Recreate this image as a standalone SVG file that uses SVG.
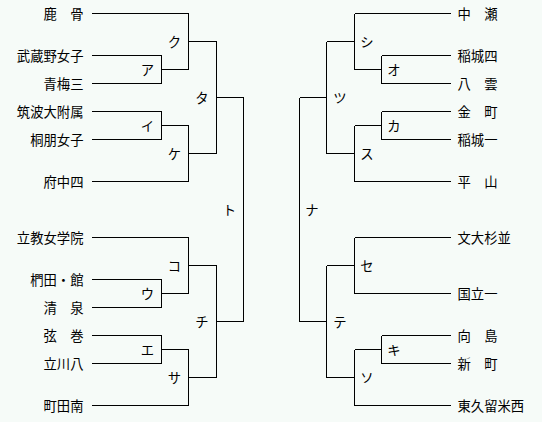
<svg xmlns="http://www.w3.org/2000/svg" width="542" height="422" viewBox="0 0 542 422">
<style>
.bg{fill:#f6fbf8}
.ln{fill:none;stroke:#000;stroke-width:1;shape-rendering:crispEdges}
text{font-family:"Noto Sans CJK JP","MS Gothic",sans-serif;font-size:13.33px;fill:#000;dominant-baseline:central}
.l{text-anchor:end}
.r{text-anchor:start}
.m{text-anchor:middle}
</style>
<rect class="bg" x="0" y="0" width="542" height="422"/>
<g id="connectors" class="ln">
<!-- left team lines -->
<path d="M92 13.5H188.5M92 55.5H161.5M92 83.5H161.5M92 111.5H161.5M92 139.5H161.5M92 181.5H188.5M92 237.5H188.5M92 279.5H161.5M92 307.5H161.5M92 335.5H161.5M92 363.5H161.5M92 405.5H188.5"/>
<!-- left matches -->
<path d="M161.5 55.5V83.5M161.5 69.5H188.5"/>
<path d="M188.5 13.5V69.5M188.5 41.5H216.5"/>
<path d="M161.5 111.5V139.5M161.5 125.5H188.5"/>
<path d="M188.5 125.5V181.5M188.5 153.5H216.5"/>
<path d="M216.5 41.5V153.5M216.5 97.5H243.5"/>
<path d="M161.5 279.5V307.5M161.5 293.5H188.5"/>
<path d="M188.5 237.5V293.5M188.5 265.5H216.5"/>
<path d="M161.5 335.5V363.5M161.5 349.5H188.5"/>
<path d="M188.5 349.5V405.5M188.5 377.5H216.5"/>
<path d="M216.5 265.5V377.5M216.5 321.5H243.5"/>
<path d="M243.5 97.5V321.5"/>
<!-- right team lines -->
<path d="M451 13.5H354.5M451 55.5H381.5M451 83.5H381.5M451 111.5H381.5M451 139.5H381.5M451 181.5H354.5M451 237.5H354.5M451 293.5H354.5M451 335.5H381.5M451 363.5H381.5M451 405.5H354.5"/>
<!-- right matches -->
<path d="M381.5 55.5V83.5M381.5 69.5H354.5"/>
<path d="M354.5 13.5V69.5M354.5 41.5H326.5"/>
<path d="M381.5 111.5V139.5M381.5 125.5H354.5"/>
<path d="M354.5 125.5V181.5M354.5 153.5H326.5"/>
<path d="M326.5 41.5V153.5M326.5 97.5H299.5"/>
<path d="M354.5 237.5V293.5M354.5 265.5H326.5"/>
<path d="M381.5 335.5V363.5M381.5 349.5H354.5"/>
<path d="M354.5 349.5V405.5M354.5 377.5H326.5"/>
<path d="M326.5 265.5V377.5M326.5 321.5H299.5"/>
<path d="M299.5 97.5V321.5"/>
</g>
<g id="match-labels">
<text class="m" x="174.5" y="41.5">ク</text>
<text class="m" x="147.5" y="69.5">ア</text>
<text class="m" x="147.5" y="125.5">イ</text>
<text class="m" x="174.5" y="153.5">ケ</text>
<text class="m" x="202" y="97.5">タ</text>
<text class="m" x="174.5" y="265.5">コ</text>
<text class="m" x="147.5" y="293.5">ウ</text>
<text class="m" x="147.5" y="349.5">エ</text>
<text class="m" x="174.5" y="377.5">サ</text>
<text class="m" x="202" y="321.5">チ</text>
<text class="m" x="229.5" y="209.5">ト</text>
<text class="m" x="367" y="41.5">シ</text>
<text class="m" x="394" y="69.5">オ</text>
<text class="m" x="394" y="125.5">カ</text>
<text class="m" x="367" y="153.5">ス</text>
<text class="m" x="340" y="97.5">ツ</text>
<text class="m" x="367" y="265.5">セ</text>
<text class="m" x="394" y="349.5">キ</text>
<text class="m" x="367" y="377.5">ソ</text>
<text class="m" x="340" y="321.5">テ</text>
<text class="m" x="312" y="209.5">ナ</text>
</g>
<g id="team-shikahone"><text class="l" x="83.5" y="13.5">鹿　骨</text></g>
<g id="team-musashinojoshi"><text class="l" x="83.5" y="55.5">武蔵野女子</text></g>
<g id="team-ome3"><text class="l" x="83.5" y="83.5">青梅三</text></g>
<g id="team-tsukuba"><text class="l" x="83.5" y="111.5">筑波大附属</text></g>
<g id="team-toho"><text class="l" x="83.5" y="139.5">桐朋女子</text></g>
<g id="team-fuchu4"><text class="l" x="83.5" y="181.5">府中四</text></g>
<g id="team-rikkyo"><text class="l" x="83.5" y="237.5">立教女学院</text></g>
<g id="team-kunugida"><text class="l" x="83.5" y="279.5">椚田・館</text></g>
<g id="team-seisen"><text class="l" x="83.5" y="307.5">清　泉</text></g>
<g id="team-tsurumaki"><text class="l" x="83.5" y="335.5">弦　巻</text></g>
<g id="team-tachikawa8"><text class="l" x="83.5" y="363.5">立川八</text></g>
<g id="team-machidaminami"><text class="l" x="83.5" y="405.5">町田南</text></g>
<g id="team-nakase"><text class="r" x="457.5" y="13.5">中　瀬</text></g>
<g id="team-inagi4"><text class="r" x="457.5" y="55.5">稲城四</text></g>
<g id="team-yakumo"><text class="r" x="457.5" y="83.5">八　雲</text></g>
<g id="team-kanamachi"><text class="r" x="457.5" y="111.5">金　町</text></g>
<g id="team-inagi1"><text class="r" x="457.5" y="139.5">稲城一</text></g>
<g id="team-hirayama"><text class="r" x="457.5" y="181.5">平　山</text></g>
<g id="team-bundai"><text class="r" x="457.5" y="237.5">文大杉並</text></g>
<g id="team-kunitachi1"><text class="r" x="457.5" y="293.5">国立一</text></g>
<g id="team-mukojima"><text class="r" x="457.5" y="335.5">向　島</text></g>
<g id="team-shinmachi"><text class="r" x="457.5" y="363.5">新　町</text></g>
<g id="team-higashikurume"><text class="r" x="457.5" y="405.5">東久留米西</text></g>
</svg>
